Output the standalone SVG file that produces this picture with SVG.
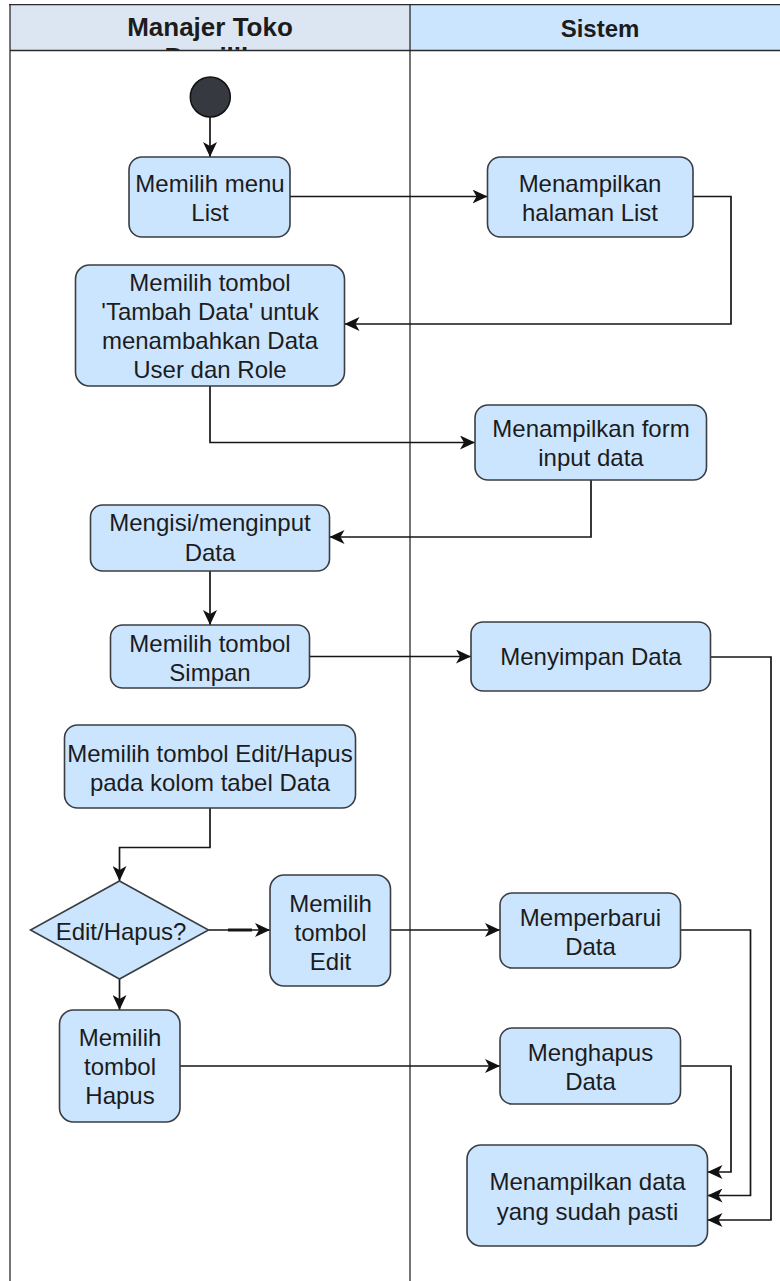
<svg xmlns="http://www.w3.org/2000/svg" width="780" height="1281" viewBox="0 0 780 1281">
<style>
.box{fill:#cce5ff;stroke:#3a3d42;stroke-width:1.6}
.t{font-family:"Liberation Sans",Arial,sans-serif;font-size:24px;fill:#1c1c1c;text-anchor:middle}
.h{font-family:"Liberation Sans",Arial,sans-serif;font-weight:bold;fill:#1c1c1c;text-anchor:middle}
.c{fill:none;stroke:#161616;stroke-width:1.7}
.lane{fill:none;stroke:#2b2b2b;stroke-width:1.3}
</style>
<defs>
<marker id="arr" viewBox="0 0 15 14" refX="15" refY="7" markerWidth="15" markerHeight="14" orient="auto" markerUnits="userSpaceOnUse">
<path d="M0,0 L15,7 L0,14 L4,7 z" fill="#111"/>
</marker>
<clipPath id="hclip"><rect x="10" y="5" width="400" height="45.5"/></clipPath>
</defs>
<rect x="0" y="0" width="780" height="1281" fill="#ffffff"/>
<g id="lanes">
<rect x="10" y="4.7" width="400" height="45.8" fill="#dce6f3"/>
<rect x="410" y="4.7" width="380" height="45.8" fill="#cce5ff"/>
<g clip-path="url(#hclip)">
<text class="h" x="210" y="36" font-size="26">Manajer Toko</text>
<text class="h" x="210" y="66" font-size="26">Pemilik</text>
</g>
<text class="h" x="600" y="36.5" font-size="24">Sistem</text>
<line class="lane" x1="9" y1="4.7" x2="780" y2="4.7" stroke-width="2"/>
<line class="lane" x1="10" y1="50.5" x2="780" y2="50.5" stroke="#555" stroke-width="1.8"/>
<line class="lane" x1="10" y1="4" x2="10" y2="1281"/>
<line class="lane" x1="410" y1="4.7" x2="410" y2="1281"/>
</g>
<g id="connectors">
<line class="c" x1="210" y1="117" x2="210" y2="157" marker-end="url(#arr)"/>
<line class="c" x1="290" y1="196.5" x2="487.5" y2="196.5" marker-end="url(#arr)"/>
<polyline class="c" points="693,196.5 731,196.5 731,324 344.5,324" marker-end="url(#arr)"/>
<polyline class="c" points="210,386 210,442.5 475,442.5" marker-end="url(#arr)"/>
<polyline class="c" points="591,480 591,537 329.5,537" marker-end="url(#arr)"/>
<line class="c" x1="210" y1="571" x2="210" y2="625" marker-end="url(#arr)"/>
<line class="c" x1="309.5" y1="656.5" x2="471" y2="656.5" marker-end="url(#arr)"/>
<polyline class="c" points="710.5,657 771,657 771,1220 707.5,1220" marker-end="url(#arr)"/>
<polyline class="c" points="210,808 210,847.5 119.5,847.5 119.5,881" marker-end="url(#arr)"/>
<line class="c" x1="208.5" y1="930" x2="270" y2="930" marker-end="url(#arr)"/>
<line x1="228" y1="930" x2="252" y2="930" stroke="#161616" stroke-width="3"/>
<line class="c" x1="390.5" y1="930" x2="500" y2="930" marker-end="url(#arr)"/>
<polyline class="c" points="680.5,930 750.5,930 750.5,1195.5 707.5,1195.5" marker-end="url(#arr)"/>
<line class="c" x1="119.5" y1="979" x2="119.5" y2="1010" marker-end="url(#arr)"/>
<line class="c" x1="180" y1="1066" x2="500" y2="1066" marker-end="url(#arr)"/>
<polyline class="c" points="680.5,1066 731,1066 731,1172 707.5,1172" marker-end="url(#arr)"/>
</g>
<g id="start">
<circle cx="210.3" cy="97" r="20" fill="#36393f" stroke="#111" stroke-width="1.5"/>
</g>
<g id="n1">
<rect class="box" x="129" y="157" width="161" height="80" rx="13"/>
<text class="t" x="210" y="191.5">Memilih menu</text>
<text class="t" x="210" y="220.5">List</text>
</g>
<g id="n2">
<rect class="box" x="487.5" y="157" width="205.5" height="80" rx="13"/>
<text class="t" x="590" y="191.5">Menampilkan</text>
<text class="t" x="590" y="220.5">halaman List</text>
</g>
<g id="n3">
<rect class="box" x="75.5" y="265" width="269" height="121" rx="14"/>
<text class="t" x="210" y="290.5">Memilih tombol</text>
<text class="t" x="210" y="319.5">'Tambah Data' untuk</text>
<text class="t" x="210" y="348.5">menambahkan Data</text>
<text class="t" x="210" y="377.5">User dan Role</text>
</g>
<g id="n4">
<rect class="box" x="475" y="405" width="231.5" height="75" rx="13"/>
<text class="t" x="591" y="437">Menampilkan form</text>
<text class="t" x="591" y="466">input data</text>
</g>
<g id="n5">
<rect class="box" x="90.5" y="505" width="239" height="66" rx="12"/>
<text class="t" x="210" y="531">Mengisi/menginput</text>
<text class="t" x="210" y="560.5">Data</text>
</g>
<g id="n6">
<rect class="box" x="110.5" y="625" width="199" height="63" rx="12"/>
<text class="t" x="210" y="651.5">Memilih tombol</text>
<text class="t" x="210" y="680.5">Simpan</text>
</g>
<g id="n7">
<rect class="box" x="471" y="622" width="239.5" height="69" rx="12"/>
<text class="t" x="591" y="665">Menyimpan Data</text>
</g>
<g id="n8">
<rect class="box" x="64.5" y="725" width="291" height="83" rx="13"/>
<text class="t" x="210" y="762">Memilih tombol Edit/Hapus</text>
<text class="t" x="210" y="791">pada kolom tabel Data</text>
</g>
<g id="n9">
<polygon class="box" points="119.5,881 208.5,930 119.5,979 30.5,930"/>
<text class="t" x="121" y="939.5">Edit/Hapus?</text>
</g>
<g id="n10">
<rect class="box" x="270" y="875" width="120.5" height="111" rx="14"/>
<text class="t" x="330.5" y="912">Memilih</text>
<text class="t" x="330.5" y="941">tombol</text>
<text class="t" x="330.5" y="970">Edit</text>
</g>
<g id="n11">
<rect class="box" x="500" y="893" width="180.5" height="75" rx="12"/>
<text class="t" x="590.5" y="925.5">Memperbarui</text>
<text class="t" x="590.5" y="955">Data</text>
</g>
<g id="n12">
<rect class="box" x="59.5" y="1010" width="120.5" height="112" rx="14"/>
<text class="t" x="120" y="1046">Memilih</text>
<text class="t" x="120" y="1075">tombol</text>
<text class="t" x="120" y="1104">Hapus</text>
</g>
<g id="n13">
<rect class="box" x="500" y="1028" width="180.5" height="76" rx="12"/>
<text class="t" x="590.5" y="1060.5">Menghapus</text>
<text class="t" x="590.5" y="1090">Data</text>
</g>
<g id="n14">
<rect class="box" x="467" y="1145" width="240.5" height="101" rx="14"/>
<text class="t" x="587.5" y="1190">Menampilkan data</text>
<text class="t" x="587.5" y="1220">yang sudah pasti</text>
</g>
</svg>
